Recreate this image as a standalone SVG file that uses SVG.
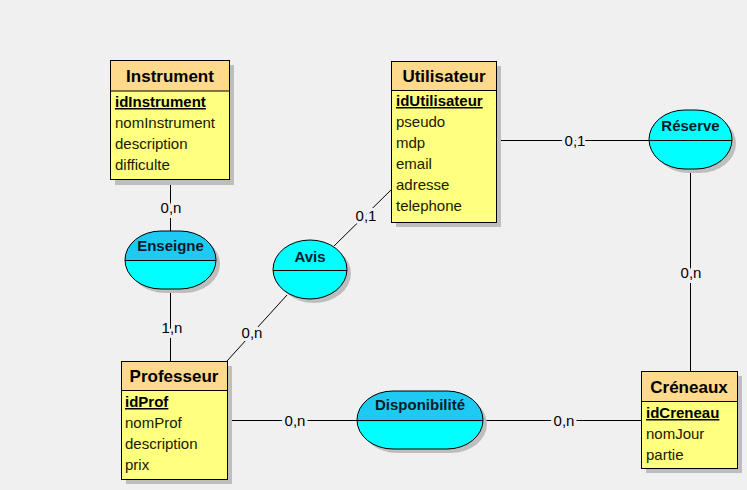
<svg xmlns="http://www.w3.org/2000/svg" width="747" height="490" viewBox="0 0 747 490">
<defs>
<style>
.bg{fill:#F0F0F0}
.shadow{fill:#BEBEBE}
.hdr{fill:#FFD98C;stroke:#000;stroke-width:1}
.body{fill:#FFFF80;stroke:#000;stroke-width:1}
.title{font-family:"Liberation Sans",Arial,sans-serif;font-size:17px;font-weight:bold;fill:#000;text-anchor:middle}
.attr{font-family:"Liberation Sans",Arial,sans-serif;font-size:15px;fill:#1a1a00}
.key{font-weight:bold;text-decoration:underline;fill:#000}
.rel{fill:#00FFFF}
.reltop{fill:#1ECAF2}
.relout{fill:none;stroke:#000;stroke-width:1}
.rlabel{font-family:"Liberation Sans",Arial,sans-serif;font-size:15px;font-weight:bold;fill:#0a1a2a;text-anchor:middle}
.link{stroke:#000;stroke-width:1;fill:none}
.card{font-family:"Liberation Sans",Arial,sans-serif;font-size:15px;fill:#000;text-anchor:middle;stroke:#F0F0F0;stroke-width:6px;paint-order:stroke;stroke-linejoin:round}
</style>
<clipPath id="cEns"><rect x="120" y="226" width="100" height="34.5"/></clipPath>
<clipPath id="cDis"><rect x="350" y="386" width="140" height="35.5"/></clipPath>
</defs>
<rect class="bg" x="0" y="0" width="747" height="490"/>

<g id="connectors">
<line class="link" x1="170.5" y1="180" x2="170.5" y2="231"/>
<line class="link" x1="170.5" y1="289" x2="170.5" y2="361"/>
<line class="link" x1="334" y1="246" x2="391" y2="190"/>
<line class="link" x1="287" y1="295" x2="227" y2="361"/>
<line class="link" x1="496" y1="140.5" x2="649" y2="140.5"/>
<line class="link" x1="690.5" y1="169" x2="690.5" y2="371"/>
<line class="link" x1="227" y1="420.5" x2="357" y2="420.5"/>
<line class="link" x1="483" y1="420.5" x2="641" y2="420.5"/>
<text class="card" x="171" y="213">0,n</text>
<text class="card" x="172" y="333">1,n</text>
<text class="card" x="366" y="221">0,1</text>
<text class="card" x="252" y="338">0,n</text>
<text class="card" x="575" y="146">0,1</text>
<text class="card" x="691" y="278">0,n</text>
<text class="card" x="295" y="426">0,n</text>
<text class="card" x="564" y="426">0,n</text>
</g>

<g id="instrument">
<rect class="shadow" x="115" y="65" width="119" height="120"/>
<rect class="body" x="110.5" y="60.5" width="119" height="119"/>
<rect class="hdr" x="110.5" y="60.5" width="119" height="30.5"/>
<text class="title" x="170" y="82">Instrument</text>
<text class="attr key" x="115" y="107">idInstrument</text>
<text class="attr" x="115" y="128">nomInstrument</text>
<text class="attr" x="115" y="149">description</text>
<text class="attr" x="115" y="170">difficulte</text>
</g>

<g id="utilisateur">
<rect class="shadow" x="396" y="66" width="105" height="161"/>
<rect class="body" x="391.5" y="61.5" width="105" height="161"/>
<rect class="hdr" x="391.5" y="61.5" width="105" height="29"/>
<text class="title" x="444" y="82">Utilisateur</text>
<text class="attr key" x="396" y="106">idUtilisateur</text>
<text class="attr" x="396" y="127">pseudo</text>
<text class="attr" x="396" y="148">mdp</text>
<text class="attr" x="396" y="169">email</text>
<text class="attr" x="396" y="190">adresse</text>
<text class="attr" x="396" y="211">telephone</text>
</g>

<g id="professeur">
<rect class="shadow" x="126" y="366" width="106" height="118"/>
<rect class="body" x="121.5" y="361.5" width="106" height="118"/>
<rect class="hdr" x="121.5" y="361.5" width="106" height="29"/>
<text class="title" x="174" y="382">Professeur</text>
<text class="attr key" x="125" y="407">idProf</text>
<text class="attr" x="125" y="428">nomProf</text>
<text class="attr" x="125" y="449">description</text>
<text class="attr" x="125" y="470">prix</text>
</g>

<g id="creneaux">
<rect class="shadow" x="646" y="376" width="96" height="97"/>
<rect class="body" x="641.5" y="371.5" width="96" height="97"/>
<rect class="hdr" x="641.5" y="371.5" width="96" height="30"/>
<text class="title" x="689" y="393">Créneaux</text>
<text class="attr key" x="646" y="418">idCreneau</text>
<text class="attr" x="646" y="439">nomJour</text>
<text class="attr" x="646" y="460">partie</text>
</g>

<g id="enseigne">
<rect class="shadow" x="129" y="235" width="91" height="58" rx="36" ry="29"/>
<rect class="rel" x="125" y="231" width="91" height="58" rx="36" ry="29"/>
<rect class="reltop" x="125" y="231" width="91" height="58" rx="36" ry="29" clip-path="url(#cEns)"/>
<rect class="relout" x="125" y="231" width="91" height="58" rx="36" ry="29"/>
<line class="link" x1="125" y1="260.5" x2="216" y2="260.5"/>
<text class="rlabel" x="170.5" y="251">Enseigne</text>
</g>

<g id="avis">
<ellipse class="shadow" cx="314" cy="273.5" rx="37" ry="29.5"/>
<ellipse class="rel" cx="310" cy="269.5" rx="37" ry="29.5"/>
<ellipse class="relout" cx="310" cy="269.5" rx="37" ry="29.5"/>
<line class="link" x1="273" y1="270.5" x2="347" y2="270.5"/>
<text class="rlabel" x="310" y="262">Avis</text>
</g>

<g id="reserve">
<rect class="shadow" x="653" y="114" width="83" height="59" rx="36" ry="29.5"/>
<rect class="rel" x="649" y="110" width="83" height="59" rx="36" ry="29.5"/>
<rect class="relout" x="649" y="110" width="83" height="59" rx="36" ry="29.5"/>
<line class="link" x1="649" y1="140.5" x2="732" y2="140.5"/>
<text class="rlabel" x="690.5" y="131">Réserve</text>
</g>

<g id="disponibilite">
<rect class="shadow" x="361" y="395" width="126" height="58" rx="36" ry="29"/>
<rect class="rel" x="357" y="391" width="126" height="58" rx="36" ry="29"/>
<rect class="reltop" x="357" y="391" width="126" height="58" rx="36" ry="29" clip-path="url(#cDis)"/>
<rect class="relout" x="357" y="391" width="126" height="58" rx="36" ry="29"/>
<line class="link" x1="357" y1="420.5" x2="483" y2="420.5"/>
<text class="rlabel" x="420" y="410">Disponibilité</text>
</g>
</svg>
